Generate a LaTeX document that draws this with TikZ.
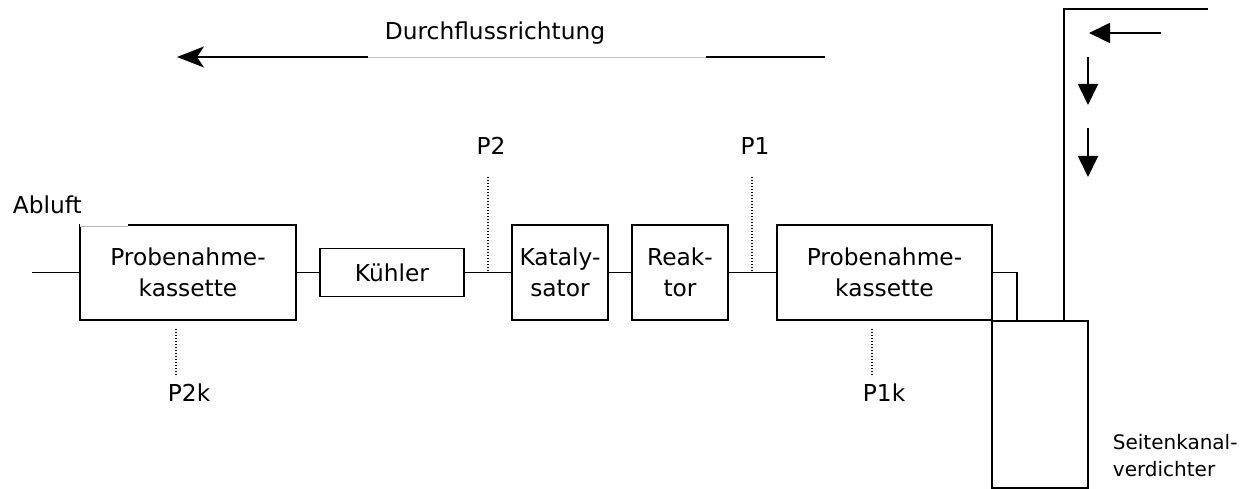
\documentclass[tikz,border=0pt]{standalone}
\usepackage{fontspec}
\setmainfont{DejaVu Sans}
\usetikzlibrary{arrows.meta}
\begin{document}
\begin{tikzpicture}[x=1pt,y=-1pt,
  line width=1.8pt,
  box/.style={draw,rectangle,inner sep=0pt,align=center,
    font=\fontsize{23.3}{31}\selectfont},
  lbl/.style={inner sep=0pt,font=\fontsize{23.3}{31}\selectfont},
  slbl/.style={inner sep=0pt,align=left,font=\fontsize{20}{27}\selectfont},
  probe/.style={line width=1.2pt,dash pattern=on 1.2pt off 1.8pt},
  bigarrow/.style={-{Stealth[length=27pt,width=21pt,inset=7pt]}},
  smallarrow/.style={-{Triangle[length=21pt,width=20pt]}}]
\useasboundingbox (0,0) rectangle (1252,489);

% boxes
\node[box,minimum width=216pt,minimum height=95pt] (pk2) at (188,272.5) {Probenahme-\\kassette};
\node[box,minimum width=144pt,minimum height=48pt] (kue) at (392,272.5) {Kühler};
\node[box,minimum width=96pt,minimum height=95pt] (kat) at (560,272.5) {Kataly-\\sator};
\node[box,minimum width=96pt,minimum height=95pt] (rea) at (680,272.5) {Reak-\\tor};
\node[box,minimum width=215pt,minimum height=95pt] (pk1) at (884.5,272.5) {Probenahme-\\kassette};
\node[box,minimum width=96pt,minimum height=167pt] (comp) at (1040,404.5) {};

% lighter part of the left box top edge
\draw[white,line width=2.6pt] (80,225) -- (128,225);
\draw[gray!55,line width=0.8pt] (80,226) -- (128,226);

% pipes
\coordinate (in) at (32,272.5);
\coordinate (j1) at (1017,321);
\coordinate (t1) at (1064,9);
\coordinate (t2) at (1208,9);
\draw (in) -- (pk2.west);
\draw (pk2.east) -- (kue.west);
\draw (kue.east) -- (kat.west);
\draw (kat.east) -- (rea.west);
\draw (rea.east) -- (pk1.west);
\draw (pk1.east) -| (j1);
\draw (comp.north -| t1) -- (t1) -- (t2);

% measuring points
\coordinate (p2a) at (488,177); \coordinate (p2b) at (488,272);
\coordinate (p1a) at (752,177); \coordinate (p1b) at (752,272);
\coordinate (p2ka) at (176,329); \coordinate (p2kb) at (176,377);
\coordinate (p1ka) at (872,329); \coordinate (p1kb) at (872,377);
\draw[probe] (p2a) -- (p2b);
\draw[probe] (p1a) -- (p1b);
\draw[probe] (p2ka) -- (p2kb);
\draw[probe] (p1ka) -- (p1kb);

% labels
\node[lbl,anchor=base west] (abl) at (12,213) {Abluft};
\node[lbl,anchor=base] (lp2) at (491,155) {P2};
\node[lbl,anchor=base] (lp1) at (755,155) {P1};
\node[lbl,anchor=base west] (lp2k) at (167,401) {P2k};
\node[lbl,anchor=base west] (lp1k) at (862,401) {P1k};
\node[lbl,anchor=base] (dfr) at (495,40) {Durchflussrichtung};
\node[slbl,anchor=west] (skv) at (1112,456) {Seitenkanal-\\verdichter};

% flow direction arrow
\coordinate (fa) at (825,57); \coordinate (fb) at (706,57);
\coordinate (fc) at (368,57); \coordinate (fd) at (177,57);
\draw (fa) -- (fb);
\draw[gray!45,line width=0.8pt] (fb) -- (fc);
\draw[bigarrow] (fc) -- (fd);

% small arrows top right
\coordinate (a1s) at (1161,33); \coordinate (a1e) at (1089,33);
\coordinate (a2s) at (1088,57); \coordinate (a2e) at (1088,105);
\coordinate (a3s) at (1088,128); \coordinate (a3e) at (1088,177);
\draw[smallarrow] (a1s) -- (a1e);
\draw[smallarrow] (a2s) -- (a2e);
\draw[smallarrow] (a3s) -- (a3e);
\end{tikzpicture}
\end{document}
